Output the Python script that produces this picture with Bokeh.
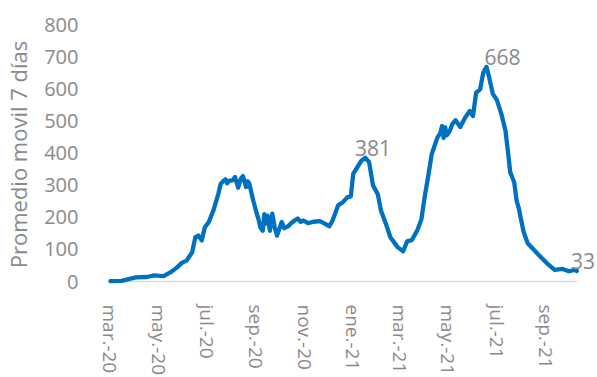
import pandas as pd
from bokeh.plotting import figure
from bokeh.models import FixedTicker, SingleIntervalTicker, Label, Range1d
from bokeh.embed import file_html
from bokeh.resources import INLINE

# ---- data ----
dates = [
    "2020-03-01", "2020-03-15", "2020-03-25", "2020-04-02", "2020-04-16", "2020-04-25",
    "2020-05-07", "2020-05-16", "2020-05-24", "2020-05-30", "2020-06-05", "2020-06-12",
    "2020-06-16", "2020-06-20", "2020-06-24", "2020-06-28", "2020-07-03", "2020-07-09",
    "2020-07-15", "2020-07-18", "2020-07-21", "2020-07-24", "2020-07-26", "2020-07-29",
    "2020-08-02", "2020-08-05", "2020-08-09", "2020-08-12", "2020-08-15", "2020-08-19",
    "2020-08-21", "2020-08-23", "2020-08-28", "2020-09-01", "2020-09-04", "2020-09-06",
    "2020-09-09", "2020-09-11", "2020-09-13", "2020-09-15", "2020-09-18", "2020-09-21",
    "2020-09-24", "2020-09-27", "2020-09-30", "2020-10-03", "2020-10-06", "2020-10-11",
    "2020-10-15", "2020-10-19", "2020-10-23", "2020-10-27", "2020-10-30", "2020-11-05",
    "2020-11-12", "2020-11-20", "2020-11-26", "2020-12-02", "2020-12-06", "2020-12-13",
    "2020-12-19", "2020-12-25", "2020-12-29", "2021-01-01", "2021-01-05", "2021-01-11",
    "2021-01-16", "2021-01-21", "2021-01-26", "2021-02-01", "2021-02-05", "2021-02-12",
    "2021-02-17", "2021-02-26", "2021-03-05", "2021-03-10", "2021-03-16", "2021-03-23",
    "2021-03-28", "2021-04-01", "2021-04-06", "2021-04-10", "2021-04-17", "2021-04-21",
    "2021-04-23", "2021-04-25", "2021-04-27", "2021-04-29", "2021-05-03", "2021-05-06",
    "2021-05-10", "2021-05-16", "2021-05-22", "2021-05-28", "2021-06-01", "2021-06-05",
    "2021-06-10", "2021-06-14", "2021-06-18", "2021-06-21", "2021-06-26", "2021-07-01",
    "2021-07-07", "2021-07-12", "2021-07-15", "2021-07-18", "2021-07-23", "2021-07-26",
    "2021-07-29", "2021-07-31", "2021-08-04", "2021-08-09", "2021-08-17", "2021-08-26",
    "2021-09-03", "2021-09-12", "2021-09-22", "2021-09-30", "2021-10-07", "2021-10-10",
]
values = [
    1, 2, 8, 13, 14, 19,
    17, 29, 44, 58, 65, 91,
    138, 143, 128, 169, 185, 223,
    273, 304, 312, 318, 306, 314,
    315, 325, 292, 318, 328, 294,
    312, 305, 252, 215, 190, 169,
    158, 210, 180, 205, 158, 211,
    169, 143, 165, 185, 166, 172,
    182, 190, 196, 185, 190, 182,
    186, 188, 180, 172, 190, 237,
    247, 263, 265, 335, 351, 375,
    385, 372, 299, 272, 221, 174,
    137, 107, 94, 125, 129, 160,
    194, 261, 334, 396, 447, 463,
    484, 447, 480, 455, 470, 490,
    502, 481, 510, 531, 515, 588,
    598, 650, 668, 640, 584, 566,
    520, 469, 407, 340, 309, 252,
    226, 200, 153, 119, 98, 75,
    55, 36, 39, 32, 36, 33,
]
tick_dates = ["2020-03-01", "2020-05-01", "2020-07-01", "2020-09-01", "2020-11-01",
              "2021-01-01", "2021-03-01", "2021-05-01", "2021-07-01", "2021-09-01"]
tick_labels = ["mar.-20", "may.-20", "jul.-20", "sep.-20", "nov.-20",
               "ene.-21", "mar.-21", "may.-21", "jul.-21", "sep.-21"]
label_dates = ["2021-01-16", "2021-06-18", "2021-10-10"]
label_texts = ["381", "668", "33"]

y_title = "Promedio movil 7 días"

# ---- build ----
DAY = 86400000
x = pd.to_datetime(dates)
xs_ms = [t.timestamp() * 1000 for t in x]
tick_ms = [pd.Timestamp(d).timestamp() * 1000 for d in tick_dates]

GRAY = "#8a8a8a"
FONT = "Open Sans"

p = figure(width=597, height=377, output_backend="svg", toolbar_location=None,
           x_axis_type="datetime",
           x_range=Range1d(xs_ms[0] - 5 * DAY, xs_ms[-1] + 26 * DAY),
           y_range=Range1d(-9.3, 800),
           min_border_left=102, min_border_right=0, min_border_top=24, min_border_bottom=93)
p.outline_line_color = None
p.background_fill_color = "white"
p.border_fill_color = "white"
p.xgrid.visible = False
p.ygrid.visible = False

# light baseline along the data span
p.segment(x0=[xs_ms[0] - 2.5 * DAY], y0=[0], x1=[xs_ms[-1]], y1=[0],
          line_color="#d9d9d9", line_width=1.6)

p.line(xs_ms, values, line_color="#0070C0", line_width=4.3, line_join="round", line_cap="round")

# y axis
p.yaxis.ticker = SingleIntervalTicker(interval=100)
p.yaxis.axis_line_color = None
p.yaxis.major_tick_line_color = None
p.yaxis.minor_tick_line_color = None
p.yaxis.major_label_standoff = 22
p.yaxis.major_label_text_color = GRAY
p.yaxis.major_label_text_font = FONT
p.yaxis.major_label_text_font_size = "20px"
p.yaxis.axis_label = y_title
p.yaxis.axis_label_text_color = GRAY
p.yaxis.axis_label_text_font = FONT
p.yaxis.axis_label_text_font_size = "22px"
p.yaxis.axis_label_text_font_style = "normal"
p.yaxis.axis_label_standoff = 8

# x axis
p.xaxis.ticker = FixedTicker(ticks=tick_ms)
p.xaxis.major_label_overrides = {t: lab for t, lab in zip(tick_ms, tick_labels)}
p.xaxis.axis_line_color = None
p.xaxis.major_tick_line_color = None
p.xaxis.minor_tick_line_color = None
p.xaxis.major_label_orientation = "vertical"
p.xaxis.major_label_standoff = 14
p.xaxis.major_label_text_color = GRAY
p.xaxis.major_label_text_font = FONT
p.xaxis.major_label_text_font_size = "19px"

# data labels
offsets = {"381": (8, "center"), "668": (-2, "left"), "33": (-6, "left")}
for d, txt in zip(label_dates, label_texts):
    i = dates.index(d)
    dx, align = offsets[txt]
    p.add_layout(Label(x=xs_ms[i], y=values[i], text=txt, x_offset=dx, y_offset=10,
                       text_align=align, text_baseline="alphabetic",
                       text_color=GRAY, text_font=FONT, text_font_size="21px"))

open("out.html", "w").write(file_html(p, INLINE))
